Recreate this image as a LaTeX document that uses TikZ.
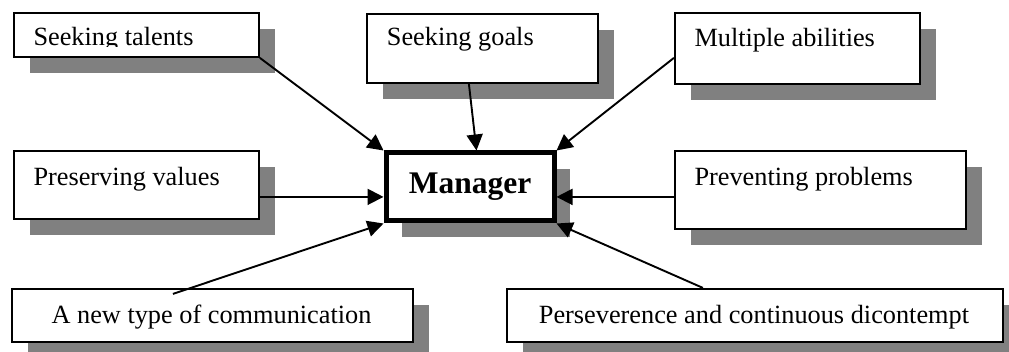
\documentclass[tikz,border=0pt]{standalone}
\usepackage{fontspec}
\setmainfont{Liberation Serif}
\usetikzlibrary{arrows.meta,shadows}

\begin{document}
\begin{tikzpicture}[x=1pt,y=-1pt,
  boxshadow/.style={drop shadow={shadow xshift=16pt,shadow yshift=-16pt,fill=black!50,opacity=1}},
  box/.style={draw=black,fill=white,line width=1.8pt,rectangle,inner sep=0pt,
    anchor=north west,boxshadow},
  mainbox/.style={box,line width=5pt,font=\bfseries\fontsize{31.5}{36}\selectfont},
  lbl/.style={inner sep=0pt,anchor=base west,font=\fontsize{26.3}{30}\selectfont},
  clbl/.style={inner sep=0pt,anchor=base,font=\fontsize{26.3}{30}\selectfont},
  link/.style={line width=1.9pt,-{Triangle[length=16pt,width=16pt]}}]

\useasboundingbox (0,0) rectangle (1009,352);

% boxes
\node[box,minimum width=245.2pt,minimum height=44.2pt] (st) at (12.9,11.9) {};
\node[box,minimum width=231.2pt,minimum height=69.2pt] (sg) at (365.9,12.9) {};
\node[box,minimum width=245.2pt,minimum height=71.2pt] (ma) at (673.9,11.9) {};
\node[box,minimum width=245.2pt,minimum height=68.2pt] (pv) at (12.9,149.9) {};
\node[mainbox,minimum width=168pt,minimum height=68pt] (mgr) at (383.5,150.5) {Manager};
\node[box,minimum width=291.2pt,minimum height=78.2pt] (pp) at (673.9,149.9) {};
\node[box,minimum width=401.2pt,minimum height=53.2pt] (cm) at (10.9,287.9) {};
\node[box,minimum width=496.2pt,minimum height=53.2pt] (pe) at (505.9,287.9) {};

% labels
\begin{scope}
  \clip (12,11) rectangle (259,46.5);
  \node[lbl] (stt) at (33.3,45.5) {Seeking talents};
\end{scope}
\node[lbl] (sgt) at (386.7,45.5) {Seeking goals};
\node[lbl] (mat) at (694.3,46.5) {Multiple abilities};
\node[lbl] (pvt) at (33.3,186) {Preserving values};
\node[lbl] (ppt) at (694.3,186) {Preventing problems};
\node[clbl] (cmt) at (211.5,323.3) {A new type of communication};
\node[clbl] (pet) at (754,323.3) {Perseverence and continuous dicontempt};

% connectors
\draw[link] (st.south east) -- (mgr.north west);
\draw[link] ([xshift=-13.5pt]sg.south) -- ([xshift=6.5pt]mgr.north);
\draw[link] ([yshift=-9.5pt]ma.west) -- (mgr.north east);
\draw[link] ([yshift=-12pt]pv.east) -- ([yshift=-12pt]pv.east -| mgr.west);
\draw[link] ([yshift=-7pt]pp.west) -- ([yshift=-7pt]pp.west -| mgr.east);
\draw[link] ([xshift=-39.5pt,yshift=-6pt]cm.north) -- (mgr.south west);
\draw[link] ([xshift=-52pt]pe.north) -- (mgr.south east);
\end{tikzpicture}
\end{document}
